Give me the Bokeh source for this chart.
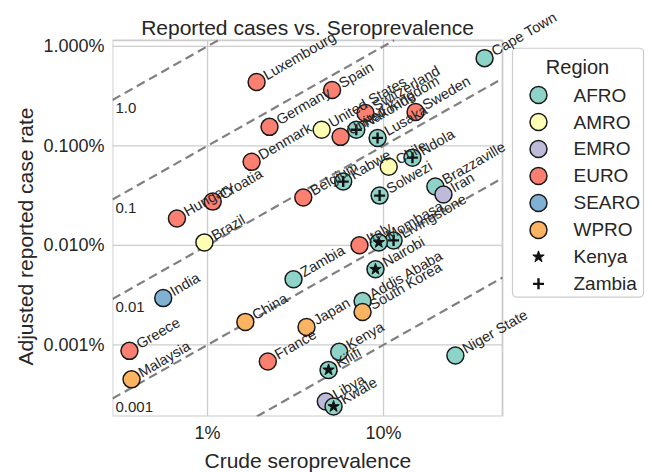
import math
from bokeh.plotting import figure
from bokeh.models import ColumnDataSource, FixedTicker, Range1d, BoxAnnotation, Title
from bokeh.embed import file_html
from bokeh.resources import INLINE
from bokeh.core.properties import value

FONT = "Liberation Sans"
TXT = "#262626"
GRID = "#cccccc"

# ---------------- data ----------------
region_names = ["AFRO", "AMRO", "EMRO", "EURO", "SEARO", "WPRO"]
region_colors = ["#8dd3c7", "#ffffb3", "#bebada", "#fb8072", "#80b1d3", "#fdb462"]

# national / regional estimates
loc_names = ["Cape Town", "Brazzaville", "Zambia", "Addis Ababa", "Kenya", "Niger State",
             "United States", "Chile", "Brazil",
             "Iran", "Libya",
             "Luxembourg", "Spain", "Germany", "Denmark", "United Kingdom", "Switzerland",
             "Sweden", "Croatia", "Hungary", "Belgium", "Italy", "Greece", "France",
             "India",
             "China", "Japan", "South Korea", "Malaysia"]
loc_regions = ["AFRO"] * 6 + ["AMRO"] * 3 + ["EMRO"] * 2 + ["EURO"] * 13 + ["SEARO"] + ["WPRO"] * 4
loc_seroprev = [0.375, 0.197, 0.0308, 0.076, 0.056, 0.256,
                0.0445, 0.107, 0.0096,
                0.219, 0.047,
                0.019, 0.051, 0.0225, 0.0178, 0.057, 0.079,
                0.152, 0.0107, 0.0067, 0.035, 0.073, 0.0036, 0.022,
                0.0056,
                0.0164, 0.0365, 0.076, 0.0037]
loc_case_rate = [0.0076, 0.00039, 4.57e-5, 2.75e-5, 8.5e-6, 7.8e-6,
                 0.00145, 0.000617, 0.000107,
                 0.000324, 2.7e-6,
                 0.00437, 0.00363, 0.00155, 0.00069, 0.00123, 0.00214,
                 0.00219, 0.000275, 0.000186, 0.000302, 0.0001, 8.7e-6, 6.8e-6,
                 2.95e-5,
                 1.7e-5, 1.51e-5, 2.14e-5, 4.5e-6]

# sub-national sites (AFRO)
sub_names = ["Nakonde", "Lusaka", "Kabwe", "Solwezi", "Ndola", "Livingstone",
             "Mombasa", "Nairobi", "Kilifi", "Kwale"]
sub_country = ["Zambia"] * 6 + ["Kenya"] * 4
sub_seroprev = [0.070, 0.0925, 0.059, 0.095, 0.146, 0.114,
                0.094, 0.090, 0.0487, 0.052]
sub_case_rate = [0.00145, 0.0012, 0.000437, 0.000316, 0.00076, 0.000112,
                 0.000107, 5.75e-5, 5.6e-6, 2.4e-6]

ratios = [1.0, 0.1, 0.01, 0.001, 0.0001]
ratio_labels = ["1.0", "0.1", "0.01", "0.001", "0.0001"]

x_ticks = [0.01, 0.1]
x_tick_labels = ["1%", "10%"]
y_ticks = [1e-5, 1e-4, 1e-3, 1e-2]
y_tick_labels = ["0.001%", "0.010%", "0.100%", "1.000%"]

legend_markers = ["Kenya", "Zambia"]
marker_for = {"Kenya": "star", "Zambia": "cross"}

title_text = "Reported cases vs. Seroprevalence"
x_label = "Crude seroprevalence"
y_label = "Adjusted reported case rate"

# ---------------- layout (pixels) ----------------
W, H = 652, 472
B_LEFT, B_BOTTOM = 112, 54
PX_PER_DEC_X, PX_PER_DEC_Y = 176.0, 100.0
LOGX_AT_LEFT = -2.54          # log10(x) at the frame's left edge
LOGY_AT_TOP = -1.54           # log10(y) at the frame's top edge (canvas top)
FRAME_W, FRAME_H = W - B_LEFT, H - B_BOTTOM

def px_x(px):   # canvas px -> data x
    return 10 ** (LOGX_AT_LEFT + (px - B_LEFT) / PX_PER_DEC_X)

def px_y(py):   # canvas px -> data y
    return 10 ** (LOGY_AT_TOP - py / PX_PER_DEC_Y)

# visible axes box (where the chart's axes end)
x_lo, x_hi = px_x(112), px_x(502)
y_lo, y_hi = px_y(418), px_y(40)

p = figure(width=W, height=H, x_axis_type="log", y_axis_type="log",
           x_range=Range1d(px_x(B_LEFT), px_x(W)), y_range=Range1d(px_y(FRAME_H), px_y(0)),
           output_backend="svg", toolbar_location=None,
           min_border_left=B_LEFT, min_border_right=0, min_border_top=0,
           min_border_bottom=B_BOTTOM)
p.outline_line_color = None
p.background_fill_color = "white"
p.border_fill_color = "white"
p.xgrid.visible = False
p.ygrid.visible = False

p.xaxis.ticker = FixedTicker(ticks=x_ticks)
p.xaxis.major_label_overrides = dict(zip(x_ticks, x_tick_labels))
p.yaxis.ticker = FixedTicker(ticks=y_ticks)
p.yaxis.major_label_overrides = dict(zip(y_ticks, y_tick_labels))
p.axis.axis_line_color = None
p.axis.major_tick_line_color = None
p.axis.minor_tick_line_color = None
p.axis.major_tick_out = 0
p.axis.major_tick_in = 0
p.axis.minor_tick_out = 0
p.axis.minor_tick_in = 0
p.axis.major_label_text_font = FONT
p.axis.major_label_text_font_size = "18px"
p.axis.major_label_text_color = TXT
p.xaxis.major_label_standoff = 6
p.yaxis.major_label_standoff = 8

# axis titles
p.add_layout(Title(text=x_label, align="left", offset=92, standoff=2,
                   text_font=FONT, text_font_size="21px", text_font_style="normal",
                   text_color=TXT), "below")
p.add_layout(Title(text=y_label, align="left", offset=51, standoff=7,
                   text_font=FONT, text_font_size="21px", text_font_style="normal",
                   text_color=TXT), "left")

# grid lines and axes box
p.segment(x0=x_ticks, y0=[y_lo] * len(x_ticks), x1=x_ticks, y1=[y_hi] * len(x_ticks),
          line_color=GRID, line_width=1.3)
p.segment(x0=[x_lo] * len(y_ticks), y0=y_ticks, x1=[x_hi] * len(y_ticks), y1=y_ticks,
          line_color=GRID, line_width=1.3)
p.add_layout(BoxAnnotation(left=x_lo, right=x_hi, bottom=y_lo, top=y_hi,
                           fill_alpha=0, line_color=GRID, line_width=1.8, line_alpha=1.0,
                           level="underlay"))

# reference ratio lines y = k * x, limited to the axes box
for k in ratios:
    xa = max(x_lo, y_lo / k)
    xb = min(x_hi, y_hi / k)
    if xa < xb:
        p.line([xa, xb], [k * xa, k * xb], line_color="#808080", line_width=2.2,
               line_dash="9 5")

shown = [i for i, k in enumerate(ratios) if y_lo <= k * x_lo <= y_hi]
p.text(x=[x_lo] * len(shown), y=[ratios[i] * x_lo for i in shown],
       text=[ratio_labels[i] for i in shown], x_offset=3, y_offset=3,
       text_baseline="top", text_align="left", text_font=value(FONT),
       text_font_size="15px", text_color=TXT)

# points
color_of = dict(zip(region_names, region_colors))
main_src = ColumnDataSource(dict(x=loc_seroprev, y=loc_case_rate, name=loc_names,
                                 color=[color_of[r] for r in loc_regions]))
p.scatter("x", "y", source=main_src, size=17, fill_color="color",
          line_color="#1a1a1a", line_width=1.5)

sub_src = ColumnDataSource(dict(x=sub_seroprev, y=sub_case_rate, name=sub_names))
p.scatter("x", "y", source=sub_src, size=17, fill_color=color_of["AFRO"],
          line_color="#1a1a1a", line_width=1.5)
for c in legend_markers:
    idx = [i for i, cc in enumerate(sub_country) if cc == c]
    xs = [sub_seroprev[i] for i in idx]
    ys = [sub_case_rate[i] for i in idx]
    if marker_for[c] == "star":
        p.scatter(xs, ys, marker="star", size=12, fill_color="#111111", line_color="#111111")
    else:
        p.scatter(xs, ys, marker="cross", size=11, line_color="#111111", line_width=2.4)

for src in (main_src, sub_src):
    p.text("x", "y", text="name", source=src, angle=math.pi / 6, x_offset=8, y_offset=-6,
           text_baseline="alphabetic", text_align="left", text_font=value(FONT),
           text_font_size="14.5px", text_color=TXT)

# chart title
p.text(x=[px_x(307)], y=[px_y(27)], text=[title_text], text_align="center",
       text_baseline="alphabetic", text_font=value(FONT), text_font_size="21px",
       text_color=TXT)

# ---------------- legend ----------------
entries = region_names + legend_markers
n_ent = len(entries)
nreg = len(region_names)
p.add_layout(BoxAnnotation(left=px_x(512), right=px_x(643), top=px_y(48), bottom=px_y(298),
                           fill_color="white", fill_alpha=1.0, line_color=GRID,
                           line_width=1.2, line_alpha=1.0, border_radius=4,
                           level="underlay"))
ent_py = [95 + i * 27.1 for i in range(n_ent)]
ent_y = [px_y(v) for v in ent_py]
mx, tx = px_x(538), px_x(573)
p.scatter([mx] * nreg, ent_y[:nreg], size=17, fill_color=region_colors,
          line_color="#1a1a1a", line_width=1.5)
p.scatter([mx], [ent_y[nreg]], marker="star", size=12, fill_color="#111111",
          line_color="#111111")
p.scatter([mx], [ent_y[nreg + 1]], marker="cross", size=11, line_color="#111111",
          line_width=2.4)
p.text([tx] * n_ent, ent_y, text=entries, text_baseline="middle",
       text_font=value(FONT), text_font_size="19px", text_color=TXT)
p.text([px_x(577)], [px_y(67)], text=["Region"], text_baseline="middle",
       text_align="center", text_font=value(FONT), text_font_size="20px", text_color=TXT)

open("out.html", "w").write(file_html(p, INLINE))
